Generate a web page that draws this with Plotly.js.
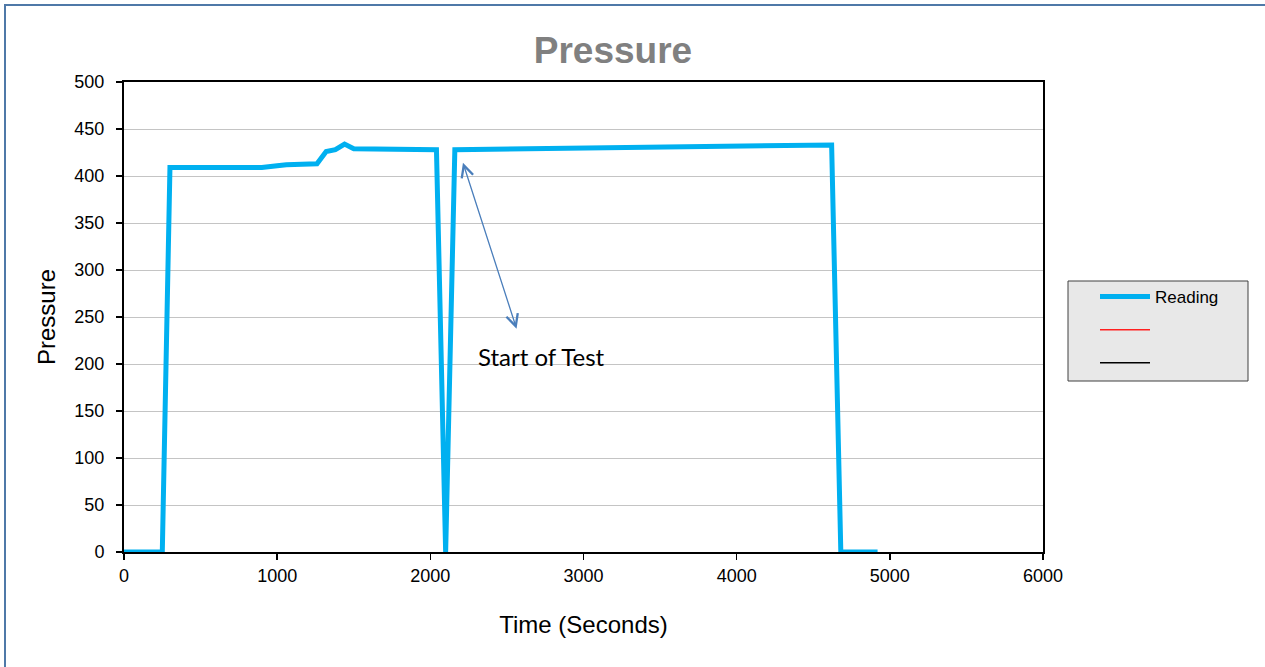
<!DOCTYPE html>
<html>
<head>
<meta charset="utf-8">
<script src="https://cdn.plot.ly/plotly-3.0.1.min.js"></script>
<style>html,body{margin:0;padding:0;background:#fff;}#chart{width:1265px;height:667px;}</style>
</head>
<body>
<div id="chart"></div>
<script>
// Time (seconds) and pressure readings
const timeSeconds = [0, 250, 300, 600, 900, 1000, 1060, 1260, 1320, 1380, 1440, 1500, 2040, 2100, 2160, 4620, 4680, 4920];
const pressureReading = [0, 0, 409, 409, 409, 411, 412, 413, 426, 428, 434, 429, 428, 0, 428, 433, 0, 0];
const xTicks = [0, 1000, 2000, 3000, 4000, 5000, 6000];
const yTicks = [0, 50, 100, 150, 200, 250, 300, 350, 400, 450, 500];
const seriesNames = ["Reading", " ", " "];
const annotationText = "Start of Test";
const chartTitle = "Pressure";
const xTitle = "Time (Seconds)";
const yTitle = "Pressure";

const px = v => (v - 124) / 919;   // pixel -> paper x
const py = v => (552 - v) / 470;   // pixel -> paper y

const data = [
  {x: timeSeconds, y: pressureReading, type: "scatter", mode: "lines", name: seriesNames[0],
   legendgroup: "a", line: {color: "#00b0f0", width: 5}},
  {x: [null], y: [null], type: "scatter", mode: "lines", name: seriesNames[1],
   legendgroup: "b", line: {color: "#ff2020", width: 1.5}},
  {x: [null], y: [null], type: "scatter", mode: "lines", name: seriesNames[2],
   legendgroup: "c", line: {color: "#000000", width: 1.5}}
];

const layout = {
  width: 1265, height: 667,
  margin: {l: 124, r: 222, t: 82, b: 115},
  paper_bgcolor: "#ffffff", plot_bgcolor: "#ffffff",
  font: {family: "Liberation Sans, Arial, sans-serif", color: "#000"},
  title: {text: "<b>" + chartTitle + "</b>", x: 613/1265, xref: "container", xanchor: "center",
          y: 1 - 50/667, yref: "container", yanchor: "middle",
          font: {size: 37, color: "#808080", family: "Liberation Sans, Arial, sans-serif"}},
  xaxis: {range: [0, 6000], tickvals: xTicks, ticktext: xTicks.map(String),
          showgrid: false, zeroline: false, showline: true, linecolor: "#000", linewidth: 2,
          mirror: true, ticks: "outside", ticklen: 6, tickwidth: 1.5, tickcolor: "#000",
          tickfont: {size: 18}, fixedrange: true,
          title: {text: xTitle, font: {size: 24}, standoff: 32}},
  yaxis: {range: [0, 500], tickvals: yTicks, ticktext: yTicks.map(String),
          showgrid: true, gridcolor: "#c4c4c4", gridwidth: 1, zeroline: false,
          showline: true, linecolor: "#000", linewidth: 2, mirror: true,
          ticks: "outside", ticklen: 6, tickwidth: 1.5, tickcolor: "#000",
          ticklabelstandoff: 8,
          tickfont: {size: 18}, fixedrange: true,
          title: {text: yTitle, font: {size: 24}, standoff: 12}},
  showlegend: true,
  legend: {x: px(1095), xanchor: "left", y: py(279), yanchor: "top",
           bgcolor: "rgba(0,0,0,0)", borderwidth: 0, tracegroupgap: 8,
           traceorder: "grouped", itemwidth: 50,
           font: {size: 17, color: "#000"}},
  shapes: [
    {type: "rect", xref: "paper", yref: "paper",
     x0: px(1068), x1: px(1248), y0: py(381), y1: py(281),
     fillcolor: "#e8e8e8", line: {color: "#404040", width: 1}, layer: "below"},
    {type: "path", xref: "paper", yref: "paper",
     path: "M" + px(5) + "," + py(700) + " L" + px(5) + "," + py(5) + " L" + px(1300) + "," + py(5),
     line: {color: "#4f79a8", width: 2}, layer: "below"}
  ],
  annotations: [
    {x: 2213, y: 414, xref: "x", yref: "y", ax: 2566, ay: 236, axref: "x", ayref: "y",
     text: "", showarrow: true, arrowhead: 5, startarrowhead: 5, arrowside: "end+start",
     arrowsize: 1.8, startarrowsize: 1.8, arrowwidth: 1.3, arrowcolor: "#4a7ebb"},
    {x: 2723, y: 208.5, xref: "x", yref: "y", text: annotationText, showarrow: false,
     xanchor: "center", yanchor: "middle",
     font: {family: "Lato, Open Sans, sans-serif", size: 24, color: "#000"}}
  ]
};

Plotly.newPlot("chart", data, layout, {displayModeBar: false, staticPlot: true});
</script>
</body>
</html>
